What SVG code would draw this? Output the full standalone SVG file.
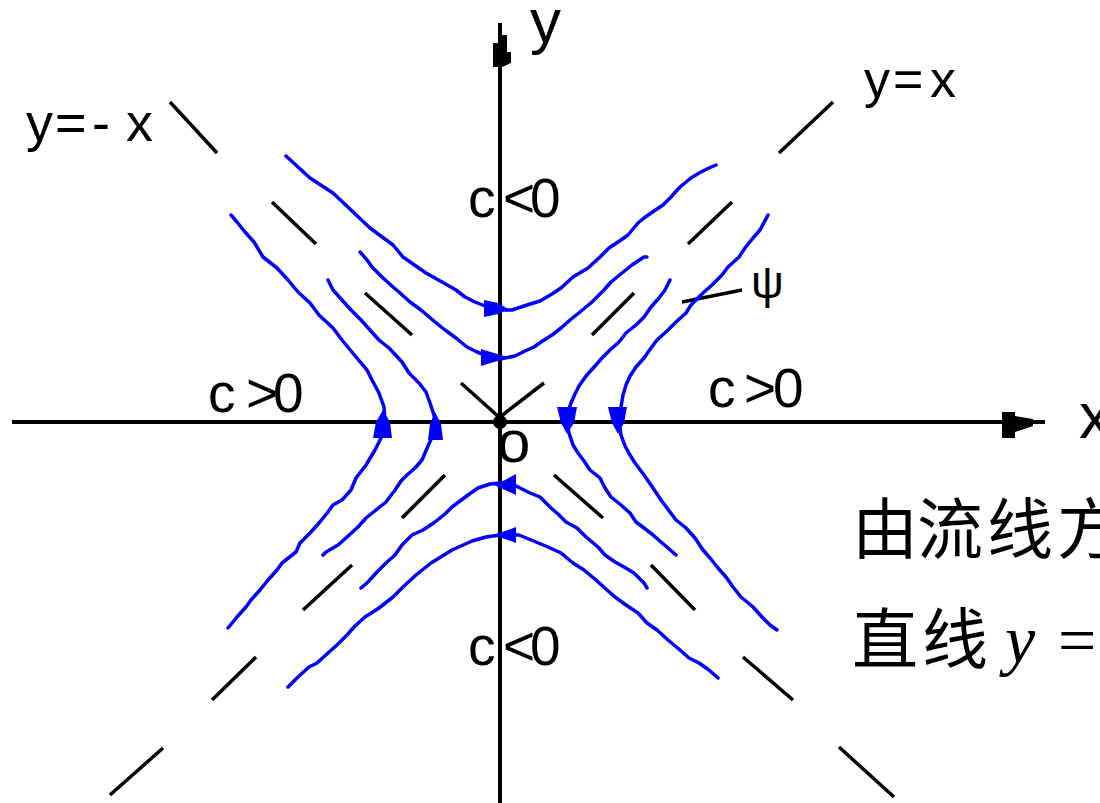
<svg xmlns="http://www.w3.org/2000/svg" width="1100" height="803" viewBox="0 0 1100 803">
<style>
.lbl{font-family:"Liberation Sans",Arial,sans-serif;fill:#000;}
.cjk{font-family:"Liberation Serif","Noto Sans CJK SC",serif;fill:#000;}
.curve{fill:none;stroke:#0000ff;stroke-width:3.5;stroke-linejoin:round;stroke-linecap:round;}
.asym{stroke:#000;stroke-width:3.5;fill:none;}
.axis{stroke:#000;stroke-width:4;fill:none;}
.mk{fill:#0000ff;}
</style>
<rect width="1100" height="803" fill="#fff"/>
<g id="axes">
  <line class="axis" x1="500" y1="23" x2="500" y2="803"/>
  <line class="axis" x1="12" y1="422" x2="1045" y2="422"/>
  <polygon points="498,35 507,35 507,52 511,52 511,63 502,67 493,67 493,43 498,43" fill="#000"/>
  <polygon points="1002,412 1015,412 1015,416 1033,419 1033,426 1015,432 1015,438 1002,438" fill="#000"/>
  <circle cx="500" cy="422" r="7" fill="#000"/>
</g>
<g id="connectors">
  <line class="asym" x1="170" y1="102" x2="217" y2="153"/>
  <line class="asym" x1="272" y1="202" x2="316" y2="244"/>
  <line class="asym" x1="365" y1="293" x2="412" y2="335"/>
  <line class="asym" x1="461" y1="383" x2="500" y2="418"/>
  <line class="asym" x1="500" y1="417" x2="544" y2="383"/>
  <line class="asym" x1="592" y1="335" x2="634" y2="293"/>
  <line class="asym" x1="688" y1="244" x2="732" y2="202"/>
  <line class="asym" x1="779" y1="153" x2="833" y2="102"/>
  <line class="asym" x1="402" y1="518" x2="445" y2="475"/>
  <line class="asym" x1="303" y1="610" x2="352" y2="565"/>
  <line class="asym" x1="212" y1="700" x2="256" y2="657"/>
  <line class="asym" x1="110" y1="795" x2="163" y2="748"/>
  <line class="asym" x1="554" y1="475" x2="603" y2="518"/>
  <line class="asym" x1="651" y1="565" x2="695" y2="610"/>
  <line class="asym" x1="743" y1="657" x2="793" y2="700"/>
  <line class="asym" x1="839" y1="747" x2="894" y2="797"/>
  <line class="asym" x1="682" y1="302" x2="742" y2="290"/>
</g>
<g id="curve-upper-outer">
  <polyline class="curve" points="286,156 310,178 333,193 351,210 370,228 393,245 403,257 426,273 442,282 456,290 465,297 475,302 490,308 500,310 512,310 527,305 540,301 552,294 561,288 573,277 588,268 600,257 609,248 621,240 628,235 638,223 644,218 651,213 663,205 670,198 680,187 691,178 699,173 709,168 716,165"/>
  <polygon class="mk" points="484,300 498,303 508,309 498,314 484,317"/>
</g>
<g id="curve-upper-inner">
  <polyline class="curve" points="360,252 367,260 372,267 382,277 393,287 400,293 410,302 421,310 435,322 445,330 456,338 467,347 477,352 490,357 500,359 515,356 525,351 534,347 541,342 552,335 561,328 570,320 580,312 592,302 604,290 611,282 622,273 632,265 644,257 647,257"/>
  <polygon class="mk" points="481,349 494,353 510,358 494,362 481,366"/>
</g>
<g id="curve-left-outer">
  <polyline class="curve" points="231,215 237,222 245,232 254,242 263,257 277,268 288,280 298,292 310,303 319,315 333,328 342,340 356,357 367,370 372,380 379,393 384,407 385,422 382,436 375,450 366,465 356,478 351,490 342,500 333,505 328,512 319,523 310,533 300,543 296,552 282,563 277,570 268,580 260,590 251,600 246,607 237,617 228,628"/>
  <polygon class="mk" points="373,438 392,438 390,422 383,410 376,422"/>
</g>
<g id="curve-left-inner">
  <polyline class="curve" points="328,280 333,290 342,300 351,310 361,320 370,330 379,340 389,348 402,362 409,373 419,383 426,392 430,403 434,415 435,422 433,435 428,446 422,460 415,468 407,475 401,481 395,490 386,502 376,510 366,518 358,527 347,537 338,545 326,552 323,555"/>
  <polygon class="mk" points="428,440 443,440 441,424 435,412 430,424"/>
</g>
<g id="curve-lower-inner">
  <polyline class="curve" points="361,588 368,582 377,572 386,563 395,555 402,545 412,535 423,530 435,522 445,514 452,507 460,501 468,495 478,488 490,484 500,483 512,484 520,488 530,493 540,497 546,503 551,508 558,514 566,522 577,528 586,537 598,547 605,555 615,562 624,567 634,573 644,583 647,588"/>
  <polygon class="mk" points="516,474 516,495 505,490 494,485 505,480"/>
</g>
<g id="curve-lower-outer">
  <polyline class="curve" points="288,687 298,677 309,667 317,663 328,653 337,645 347,635 354,627 365,617 379,608 393,597 403,587 416,575 431,563 444,555 452,550 461,546 472,541 486,537 500,535 519,535 536,542 548,547 561,553 573,563 584,570 596,580 607,590 615,597 626,605 638,613 647,623 657,630 668,640 680,650 689,658 699,663 709,670 718,678"/>
  <polygon class="mk" points="516,527 516,543 505,539 493,535 505,531"/>
</g>
<g id="curve-right-inner">
  <polyline class="curve" points="670,280 665,290 659,298 651,307 644,317 636,325 626,333 619,342 610,350 602,358 595,366 586,376 579,386 575,394 571,403 568,412 567,422 569,433 573,445 578,453 584,461 590,470 600,478 605,488 611,497 621,505 630,513 636,522 644,528 653,535 661,542 668,548 676,555"/>
  <polygon class="mk" points="557,407 577,407 574,423 567,434 561,423"/>
</g>
<g id="curve-right-outer">
  <polyline class="curve" points="768,215 760,230 753,238 745,248 739,257 728,267 722,275 712,285 703,293 691,305 686,313 676,322 668,330 657,340 651,348 644,358 636,367 630,376 626,385 623,395 621,407 619,422 621,435 625,446 630,455 635,463 644,475 653,488 661,500 670,512 676,520 686,528 695,538 703,550 710,558 718,568 726,577 733,587 741,597 753,607 762,617 770,625 777,630"/>
  <polygon class="mk" points="608,407 627,407 624,423 618,434 612,423"/>
</g>
<g id="labels">
  <text class="lbl" x="530" y="42" font-size="62">y</text>
  <text class="lbl" x="1079" y="438" font-size="64">x</text>
  <text class="lbl" x="864 893 930" y="97" font-size="52">y=x</text>
  <text class="lbl" x="26 55 92 126" y="141" font-size="54">y=-x</text>
  <text class="lbl" x="468 503 530" y="217" font-size="55">c&lt;0</text>
  <text class="lbl" x="468 503 530" y="665" font-size="55">c&lt;0</text>
  <text class="lbl" x="208 246 273" y="412" font-size="55">c&gt;0</text>
  <text class="lbl" x="708 744 773" y="407" font-size="55">c&gt;0</text>
  <text class="lbl" x="497" y="462" font-size="60">o</text>
  <text class="lbl" x="751" y="298" font-size="46">ψ</text>
</g>
<g id="caption">
  <text class="cjk" x="852 917 987 1057" y="553" font-size="66">由流线方</text>
  <text class="cjk" y="663" font-size="66"><tspan x="852 922">直线</tspan> <tspan x="1005" font-style="italic" font-size="68">y</tspan> <tspan x="1058" font-size="68">=</tspan></text>
</g>
</svg>
